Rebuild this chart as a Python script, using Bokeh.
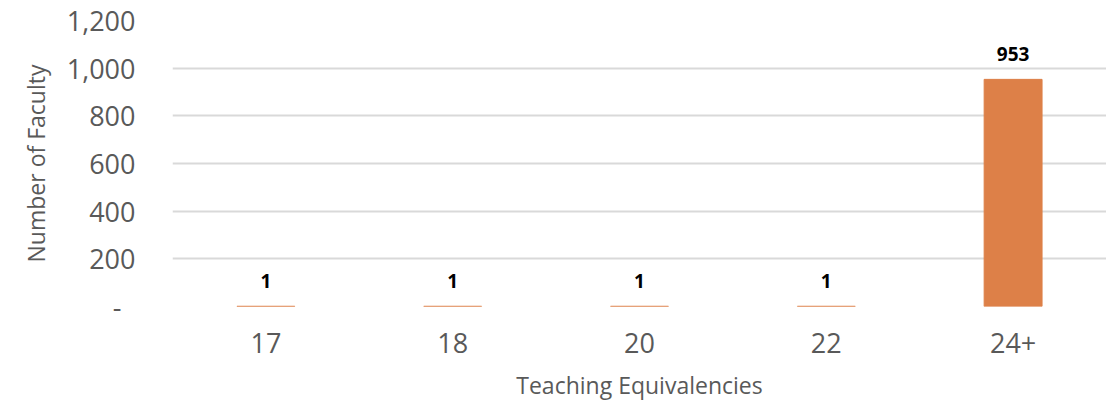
from bokeh.plotting import figure
from bokeh.models import ColumnDataSource, FixedTicker, Range1d, LabelSet
from bokeh.embed import file_html
from bokeh.resources import INLINE
from bokeh.core.properties import value

categories = ["17", "18", "20", "22", "24+"]
counts = [1, 1, 1, 1, 953]
labels = [str(c) for c in counts]
y_ticks = [0, 200, 400, 600, 800, 1000, 1200]
y_tick_labels = ["-\u00a0\u00a0", "200", "400", "600", "800", "1,000", "1,200"]

src = ColumnDataSource(data=dict(cat=categories, val=counts, lab=labels))

p = figure(x_range=categories, y_range=Range1d(0, 1200), width=1106, height=403,
           output_backend="svg", toolbar_location=None,
           min_border_left=172, min_border_right=0, min_border_top=20, min_border_bottom=97)
p.outline_line_color = None

p.vbar(x="cat", top="val", width=0.31, source=src, fill_color="#DD8048",
       line_color="#DD8048", line_width=1)

lbl = LabelSet(x="cat", y="val", text="lab", source=src, text_align="center", text_baseline="middle",
               y_offset=25, text_font=value("Open Sans"), text_font_style="bold",
               text_font_size="19px", text_color="#000000")
p.add_layout(lbl)

p.yaxis.ticker = FixedTicker(ticks=y_ticks)
p.yaxis.major_label_overrides = {t: l for t, l in zip(y_ticks, y_tick_labels)}
for ax in (p.xaxis, p.yaxis):
    ax.axis_line_color = None
    ax.major_tick_line_color = None
    ax.minor_tick_line_color = None
    ax.major_label_text_font = "Open Sans"
    ax.major_label_text_font_size = "27px"
    ax.major_label_text_color = "#595959"
    ax.axis_label_text_font = "Open Sans"
    ax.axis_label_text_color = "#595959"
    ax.axis_label_text_font_style = "normal"

p.xaxis.axis_label = "Teaching Equivalencies"
p.yaxis.axis_label = "Number of Faculty"
p.xaxis.axis_label_text_font_size = "23px"
p.yaxis.axis_label_text_font_size = "23px"
p.xaxis.major_label_standoff = 20
p.xaxis.axis_label_standoff = 13
p.yaxis.major_label_standoff = 31
p.yaxis.axis_label_standoff = 12

p.xgrid.grid_line_color = None
p.ygrid.grid_line_color = "#D9D9D9"
p.ygrid.grid_line_width = 2

open("out.html", "w").write(file_html(p, INLINE))
